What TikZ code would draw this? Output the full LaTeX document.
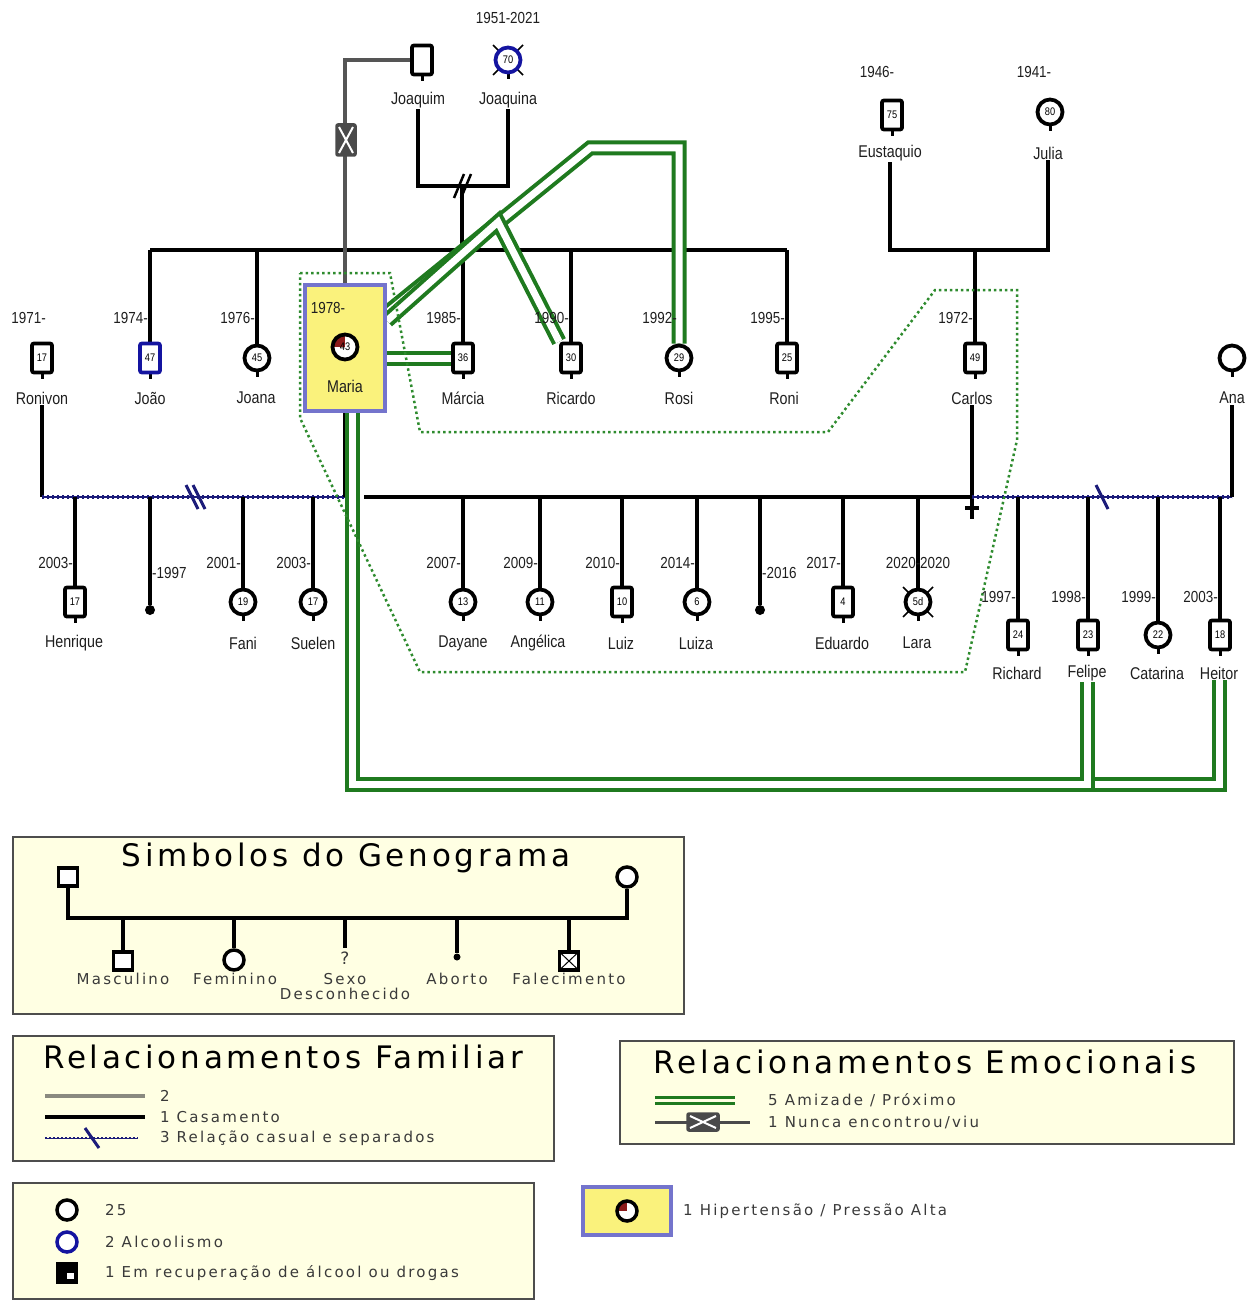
\documentclass[tikz,border=0pt]{standalone}
\usepackage{fontspec}
\setmainfont{Liberation Sans}
\newfontfamily\chartfont[FakeStretch=0.84]{Liberation Sans}
\newfontfamily\legendfont[LetterSpace=15]{DejaVu Sans}
\newfontfamily\legendtitlefont[LetterSpace=12]{DejaVu Sans}
\usepackage{tikz}
\usetikzlibrary{positioning,backgrounds}
\definecolor{closegreen}{HTML}{1F7A1F}
\definecolor{homegreen}{HTML}{2E8B2E}
\definecolor{casualblue}{HTML}{1C1C7A}
\definecolor{alcblue}{HTML}{1414A0}
\definecolor{kingray}{HTML}{555555}
\definecolor{nevergray}{HTML}{4A4A4A}
\definecolor{legendfill}{HTML}{FFFFE3}
\definecolor{legendedge}{HTML}{4D4D4D}
\definecolor{legendtext}{HTML}{3A3A3A}
\definecolor{famgray}{HTML}{8A8A80}
\definecolor{focusfill}{HTML}{FAF27C}
\definecolor{focusedge}{HTML}{7474CC}
\definecolor{hyperred}{HTML}{8B1A1A}
\definecolor{chartgray}{HTML}{1E1E1E}

\tikzset{
  person/.style={draw, line width=3.8pt, fill=white, inner sep=0pt,
    font=\chartfont\fontsize{11}{11}\selectfont},
  male/.style={person, rounded corners=2pt, minimum width=20pt, minimum height=29pt},
  female/.style={person, circle, minimum size=25pt},
  alcohol/.style={draw=alcblue},
  hyper/.style={path picture={\fill[hyperred] (path picture bounding box.center)
    rectangle (path picture bounding box.north west);}},
  pname/.style={font=\chartfont\fontsize{17}{17}\selectfont, text=chartgray, inner sep=1pt},
  pyear/.style={font=\chartfont\fontsize{16}{16}\selectfont, text=chartgray, inner sep=0pt},
  kin/.style={line width=3.5pt},
  halfkin/.style={draw=kingray, line width=3.5pt},
  casualline/.style={draw=casualblue, line width=1.2pt,
    postaction={draw=casualblue, line width=3.5pt, dash pattern=on 2pt off 3pt}},
  sepmark/.style={line width=2.5pt},
  closeline/.style={draw=closegreen, double=white, double distance=7pt, line width=4pt},
  homeline/.style={draw=homegreen, line width=2.5pt, dash pattern=on 2.5pt off 3pt},
  abortdot/.style={circle, fill, inner sep=0pt, minimum size=10pt},
  nevermet/.style={draw=nevergray, fill=nevergray, rounded corners=2pt, line width=1.5pt,
    inner sep=0pt, path picture={\draw[white, line width=2pt]
      ([shift={(3pt,3pt)}]path picture bounding box.south west) --
      ([shift={(-3pt,-3pt)}]path picture bounding box.north east)
      ([shift={(3pt,-3pt)}]path picture bounding box.north west) --
      ([shift={(-3pt,3pt)}]path picture bounding box.south east);}},
  focusbox/.style={draw=focusedge, fill=focusfill, line width=4pt},
  legendbox/.style={draw=legendedge, line width=1.5pt, fill=legendfill, anchor=north west},
  legtitle/.style={font=\legendtitlefont\fontsize{31}{31}\selectfont, text=black},
  legtext/.style={font=\legendfont\fontsize{15}{15}\selectfont, text=legendtext, inner sep=0pt},
  legmale/.style={draw, line width=3.5pt, fill=white, minimum width=19pt,
    minimum height=18pt, inner sep=0pt},
  legfemale/.style={draw, circle, line width=3.5pt, fill=white, minimum size=20pt, inner sep=0pt},
}

\begin{document}
\begin{tikzpicture}[x=1pt,y=-1pt]
  \useasboundingbox (0,0) rectangle (1249,1300);

  % grandparents
  \node[male] (joaquim) at (422,60) {};
  \node[female, alcohol] (joaquina) at (508,60) {70};
  \node[pyear] (joaquinayear) at (508,18) {1951-2021};
  \node[pname] (joaquimname) at (418,100) {Joaquim};
  \node[pname] (joaquinaname) at (508,100) {Joaquina};
  \node[male] (eustaquio) at (892,115) {75};
  \node[female] (julia) at (1050,112) {80};
  \node[pyear] (eustaquioyear) at (877,72) {1946-};
  \node[pyear] (juliayear) at (1034,72) {1941-};
  \node[pname] (eustaquioname) at (890,153) {Eustaquio};
  \node[pname] (julianame) at (1048,153) {Julia};

  % siblings and partners
  \node[male] (ronivon) at (42,358) {17};
  \node[pyear, anchor=east] (ronivonyear) at (46,318) {1971-};
  \node[pname] (ronivonname) at (42,398) {Ronivon};
  \node[male, alcohol] (joao) at (150,358) {47};
  \node[pyear, anchor=east] (joaoyear) at (148,318) {1974-};
  \node[pname] (joaoname) at (150,398) {João};
  \node[female] (joana) at (257,358) {45};
  \node[pyear, anchor=east] (joanayear) at (255,318) {1976-};
  \node[pname] (joananame) at (256,398) {Joana};
  \node[focusbox, minimum width=80pt, minimum height=126pt] (mariabox) at (345,348) {};
  \node[female, hyper] (maria) at (345,347) {43};
  \node[pyear] (mariayear) at (328,308) {1978-};
  \node[pname] (marianame) at (345,386) {Maria};
  \node[male] (marcia) at (463,358) {36};
  \node[pyear, anchor=east] (marciayear) at (461,318) {1985-};
  \node[pname] (marcianame) at (463,398) {Márcia};
  \node[male] (ricardo) at (571,358) {30};
  \node[pyear, anchor=east] (ricardoyear) at (569,318) {1990-};
  \node[pname] (ricardoname) at (571,398) {Ricardo};
  \node[female] (rosi) at (679,358) {29};
  \node[pyear, anchor=east] (rosiyear) at (677,318) {1992-};
  \node[pname] (rosiname) at (679,398) {Rosi};
  \node[male] (roni) at (787,358) {25};
  \node[pyear, anchor=east] (roniyear) at (785,318) {1995-};
  \node[pname] (roniname) at (784,398) {Roni};
  \node[male] (carlos) at (975,358) {49};
  \node[pyear, anchor=east] (carlosyear) at (973,318) {1972-};
  \node[pname] (carlosname) at (972,398) {Carlos};
  \node[female] (ana) at (1232,358) {};
  \node[pname] (ananame) at (1232,398) {Ana};

  % children of Ronivon and Maria
  \node[male] (henrique) at (75,602) {17};
  \node[pyear, anchor=east] (henriqueyear) at (73,563) {2003-};
  \node[pname] (henriquename) at (74,643) {Henrique};
  \node[abortdot] (abortA) at (150,610) {};
  \node[pyear, anchor=west] (abortAyear) at (152,573) {-1997};
  \node[female] (fani) at (243,602) {19};
  \node[pyear, anchor=east] (faniyear) at (241,563) {2001-};
  \node[pname] (faniname) at (243,643) {Fani};
  \node[female] (suelen) at (313,602) {17};
  \node[pyear, anchor=east] (suelenyear) at (311,563) {2003-};
  \node[pname] (suelenname) at (313,643) {Suelen};

  % children of Maria and Carlos
  \node[female] (dayane) at (463,602) {13};
  \node[pyear, anchor=east] (dayaneyear) at (461,563) {2007-};
  \node[pname] (dayanename) at (463,643) {Dayane};
  \node[female] (angelica) at (540,602) {11};
  \node[pyear, anchor=east] (angelicayear) at (538,563) {2009-};
  \node[pname] (angelicaname) at (538,643) {Angélica};
  \node[male] (luiz) at (622,602) {10};
  \node[pyear, anchor=east] (luizyear) at (620,563) {2010-};
  \node[pname] (luizname) at (621,643) {Luiz};
  \node[female] (luiza) at (697,602) {6};
  \node[pyear, anchor=east] (luizayear) at (695,563) {2014-};
  \node[pname] (luizaname) at (696,643) {Luiza};
  \node[abortdot] (abortB) at (760,610) {};
  \node[pyear, anchor=west] (abortByear) at (762,573) {-2016};
  \node[male] (eduardo) at (843,602) {4};
  \node[pyear, anchor=east] (eduardoyear) at (841,563) {2017-};
  \node[pname] (eduardoname) at (842,643) {Eduardo};
  \node[female] (lara) at (918,602) {5d};
  \node[pyear] (larayear) at (918,563) {2020-2020};
  \node[pname] (laraname) at (917,643) {Lara};

  % children of Carlos and Ana
  \node[male] (richard) at (1018,635) {24};
  \node[pyear, anchor=east] (richardyear) at (1016,597) {1997-};
  \node[pname] (richardname) at (1017,673) {Richard};
  \node[male] (felipe) at (1088,635) {23};
  \node[pyear, anchor=east] (felipeyear) at (1086,597) {1998-};
  \node[pname] (felipename) at (1087,673) {Felipe};
  \node[female] (catarina) at (1158,635) {22};
  \node[pyear, anchor=east] (catarinayear) at (1156,597) {1999-};
  \node[pname] (catarinaname) at (1157,673) {Catarina};
  \node[male] (heitor) at (1220,635) {18};
  \node[pyear, anchor=east] (heitoryear) at (1218,597) {2003-};
  \node[pname] (heitorname) at (1219,673) {Heitor};

  \node[nevermet, minimum width=20pt, minimum height=32pt] (nevermetjm) at (346,140) {};

  \coordinate (jjsep) at (462,186);
  \coordinate (ejmid) at (975,250);
  \coordinate (sibline) at (0,250);
  \coordinate (partline) at (0,497);
  \coordinate (mcstart) at (364,497);
  \coordinate (rmsep) at (195,497);
  \coordinate (casep) at (1102,497);
  \coordinate (rosibend) at (590,148);
  \coordinate (ricbend) at (498,222);
  \coordinate (lowline) at (0,784);

  \begin{scope}[on background layer]
    % family lines
    \draw[kin] (joaquimname.south) |- (jjsep) -| (joaquinaname.south);
    \draw[kin] (jjsep) -- (jjsep |- sibline);
    \draw[sepmark] ([shift={(-8,12)}]jjsep) -- ([shift={(2,-12)}]jjsep);
    \draw[sepmark] ([shift={(-1,12)}]jjsep) -- ([shift={(9,-12)}]jjsep);
    \draw[kin] (joao.north |- sibline) -- (roni.north |- sibline);
    \foreach \c in {joao,joana,marcia,ricardo,rosi,roni}
      \draw[kin] (\c.north |- sibline) -- (\c.north);
    \draw[halfkin] (joaquim.west) -| (mariabox.north);
    \draw[kin] (eustaquioname.south) |- (ejmid) -| (julianame.south);
    \draw[kin] (ejmid) -- (carlos.north);
    \foreach \p in {joaquim,joaquina,eustaquio,julia,ronivon,joao,joana,marcia,ricardo,
      rosi,roni,carlos,ana,henrique,fani,suelen,dayane,angelica,luiz,luiza,eduardo,lara,
      richard,felipe,catarina,heitor}
      \draw[line width=3pt] (\p.south) -- ++(0,5);
    \foreach \d in {joaquina,lara}
      \draw[line width=1.5pt] ([shift={(-15,-15)}]\d.center) -- ([shift={(15,15)}]\d.center)
        ([shift={(-15,15)}]\d.center) -- ([shift={(15,-15)}]\d.center);

    % partners
    \draw[kin] (ronivonname.south) -- (ronivonname.south |- partline);
    \draw[casualline] (ronivonname.south |- partline) -- (mariabox.south |- partline);
    \draw[casualblue, line width=3pt] ([shift={(-9,-12)}]rmsep) -- ([shift={(3,12)}]rmsep);
    \draw[casualblue, line width=3pt] ([shift={(-2,-12)}]rmsep) -- ([shift={(10,12)}]rmsep);
    \draw[kin] (mariabox.south) -- (mariabox.south |- partline);
    \draw[kin] (mcstart) -- (carlosname.south |- partline);
    \draw[kin] (carlosname.south) -- (carlosname.south |- partline) -- ++(0,22);
    \draw[kin] ([shift={(-7,11)}]carlosname.south |- partline) -- ++(14,0);
    \draw[casualline] (carlosname.south |- partline) -- (ananame.south |- partline);
    \draw[casualblue, line width=3pt] ([shift={(-6,-12)}]casep) -- ([shift={(6,12)}]casep);
    \draw[kin] (ananame.south) -- (ananame.south |- partline);
    \foreach \c in {henrique,fani,suelen,dayane,angelica,luiz,luiza,eduardo,lara,
      richard,felipe,catarina,heitor}
      \draw[kin] (\c.north |- partline) -- (\c.north);
    \draw[kin] (abortA |- partline) -- (abortA);
    \draw[kin] (abortB |- partline) -- (abortB);

    % emotional lines
    \draw[closeline] (mariabox.40) -- (rosibend) -| (rosi.north);
    \draw[closeline] (mariabox.33) -- (ricbend) -- (ricardo.north west);
    \draw[closeline] (mariabox.east |- marcia.west) -- (marcia.west);
    \draw[closeline] ([xshift=7pt]mariabox.south) |- (lowline -| heitorname.south)
      -- (heitorname.south);
    \draw[closeline] ([xshift=7pt]mariabox.south) |- (lowline -| felipename.south)
      -- (felipename.south);

    % household
    \draw[homeline] (300,273) -- (390,273) -- (420,432) -- (828,432) -- (935,290)
      -- (1017,290) -- (1017,440) -- (965,672) -- (420,672) -- (300,418) -- cycle;
  \end{scope}

  % legend: symbols
  \node[legendbox, minimum width=671pt, minimum height=177pt] (symbolbox) at (12,836) {};
  \node[legtitle] (symboltitle) at (346,858) {Simbolos do Genograma};
  \node[legmale] (legfather) at (68,877) {};
  \node[legfemale] (legmother) at (627,877) {};
  \coordinate (legbar) at (346,918);
  \node[legmale] (legmasc) at (123,961) {};
  \node[legfemale] (legfem) at (234,960) {};
  \node[legtext, font=\legendfont\fontsize{17}{17}\selectfont] (legunk) at (345,958) {?};
  \node[abortdot, minimum size=7pt] (legabort) at (457,957) {};
  \node[legmale, path picture={\draw[line width=1pt]
      (path picture bounding box.south west) -- (path picture bounding box.north east)
      (path picture bounding box.north west) -- (path picture bounding box.south east);}]
    (legdead) at (569,961) {};
  \draw[kin] (legfather.south) |- (legbar) -| (legmother.south);
  \foreach \c in {legmasc,legfem,legdead}
    \draw[kin] (\c.north |- legbar) -- (\c.north);
  \draw[kin] (legunk.north |- legbar) -- ++(0,30);
  \draw[kin] (legabort |- legbar) -- (legabort);
  \node[legtext] (legmasclbl) at (123,979) {Masculino};
  \node[legtext] (legfemlbl) at (235,979) {Feminino};
  \node[legtext] (legunklbl) at (345,979) {Sexo};
  \node[legtext] (legunklbltwo) at (345,994) {Desconhecido};
  \node[legtext] (legabortlbl) at (457,979) {Aborto};
  \node[legtext] (legdeadlbl) at (569,979) {Falecimento};

  % legend: family relations
  \node[legendbox, minimum width=541pt, minimum height=125pt] (familybox) at (12,1035) {};
  \node[legtitle] (familytitle) at (283,1057) {Relacionamentos Familiar};
  \coordinate (famgrayA) at (45,1096);
  \coordinate (famgrayB) at (145,1096);
  \coordinate (fammarA) at (45,1117);
  \coordinate (fammarB) at (145,1117);
  \coordinate (famcasA) at (45,1138);
  \coordinate (famcasB) at (138,1138);
  \coordinate (famcassep) at (92,1138);
  \draw[famgray, line width=3.5pt] (famgrayA) -- (famgrayB);
  \draw[kin] (fammarA) -- (fammarB);
  \draw[draw=casualblue, line width=1pt,
    postaction={draw=casualblue, line width=2.5pt, dash pattern=on 1.5pt off 2.5pt}]
    (famcasA) -- (famcasB);
  \draw[casualblue, line width=3pt] ([shift={(-7,-10)}]famcassep) -- ([shift={(7,10)}]famcassep);
  \node[legtext, anchor=west] (famgraylbl) at (160,1096) {2};
  \node[legtext, anchor=west] (fammarlbl) at (160,1117) {1 Casamento};
  \node[legtext, anchor=west] (famcaslbl) at (160,1138) {3 Relação casual e separados};

  % legend: emotional relations
  \node[legendbox, minimum width=614pt, minimum height=103pt] (emotionbox) at (619,1040) {};
  \node[legtitle] (emotiontitle) at (925,1062) {Relacionamentos Emocionais};
  \coordinate (emoclA) at (655,1100);
  \coordinate (emoclB) at (735,1100);
  \coordinate (emonvA) at (655,1122);
  \coordinate (emonvB) at (750,1122);
  \draw[draw=closegreen, double=legendfill, double distance=3pt, line width=3pt]
    (emoclA) -- (emoclB);
  \draw[draw=nevergray, line width=3pt] (emonvA) -- (emonvB);
  \node[nevermet, minimum width=32pt, minimum height=18pt] (legnever) at (703,1122) {};
  \node[legtext, anchor=west] (emocllbl) at (768,1100) {5 Amizade / Próximo};
  \node[legtext, anchor=west] (emonvlbl) at (768,1122) {1 Nunca encontrou/viu};

  % legend: conditions
  \node[legendbox, minimum width=521pt, minimum height=116pt] (conditionbox) at (12,1182) {};
  \node[legfemale] (legcircle) at (67,1210) {};
  \node[legfemale, draw=alcblue] (legalcohol) at (67,1242) {};
  \node[legmale, fill=black, path picture={\fill[white]
      (path picture bounding box.center) rectangle
      ([shift={(-3pt,3pt)}]path picture bounding box.south east);}]
    (legrecovery) at (67,1273) {};
  \node[legtext, anchor=west] (legcirclelbl) at (105,1210) {25};
  \node[legtext, anchor=west] (legalcohollbl) at (105,1242) {2 Alcoolismo};
  \node[legtext, anchor=west] (legrecoverylbl) at (105,1273) {1 Em recuperação de álcool ou drogas};
  \node[focusbox, minimum width=88pt, minimum height=48pt] (leghyperbox) at (627,1211) {};
  \node[legfemale, hyper] (leghyper) at (627,1211) {};
  \node[legtext, anchor=west] (leghyperlbl) at (683,1211) {1 Hipertensão / Pressão Alta};
\end{tikzpicture}
\end{document}
